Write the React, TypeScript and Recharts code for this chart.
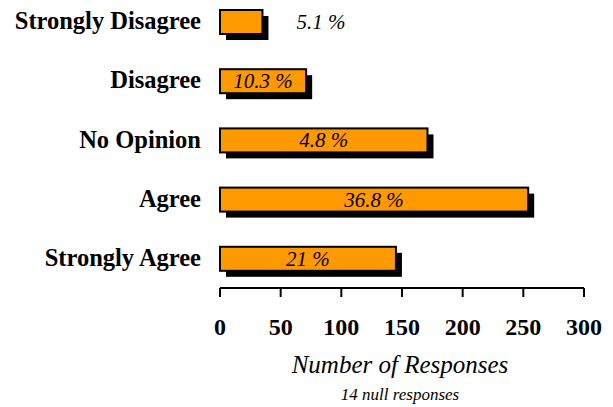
import { Bar, BarChart, LabelList, XAxis, YAxis } from "recharts";

const categories = ["Strongly Disagree", "Disagree", "No Opinion", "Agree", "Strongly Agree"];
const responses = [35, 71, 171, 254, 145];
const percentLabels = ["5.1 %", "10.3 %", "4.8 %", "36.8 %", "21 %"];
const xTicks = [0, 50, 100, 150, 200, 250, 300];

const data = categories.map((name, i) => ({
  name,
  value: responses[i],
  pct: percentLabels[i],
}));

const FONT = "'Liberation Serif', 'Times New Roman', serif";

const ShadowBar = (props: any) => {
  const { x, y, width, height } = props;
  return (
    <g>
      <rect x={x + 6} y={y + 6} width={width} height={height} fill="#000" />
      <rect x={x} y={y} width={width} height={height} fill="#FF9900" stroke="#000" strokeWidth={2} />
    </g>
  );
};

const PctLabel = (props: any) => {
  const { x, y, width, height, value } = props;
  // short bars get their label outside, to the right
  const outside = width < 50;
  return (
    <text
      x={outside ? x + width + 34 : x + width / 2}
      y={y + height / 2 + 7}
      textAnchor={outside ? "start" : "middle"}
      fontFamily={FONT}
      fontStyle="italic"
      fontSize={21}
      fill="#000"
    >
      {value}
    </text>
  );
};

const AxisTitle = (props: any) => {
  const { viewBox } = props;
  const cx = viewBox.x + viewBox.width / 2 - 2;
  return (
    <g fontFamily={FONT} fontStyle="italic" fill="#000">
      <text x={cx} y={viewBox.y + 85} textAnchor="middle" fontSize={25}>
        Number of Responses
      </text>
      <text x={cx} y={viewBox.y + 112} textAnchor="middle" fontSize={17}>
        14 null responses
      </text>
    </g>
  );
};

export default function App() {
  return (
    <div style={{ position: "absolute", left: 0, top: -16, width: 613, height: 423, background: "#fff" }}>
      <BarChart
        width={613}
        height={423}
        data={data}
        layout="vertical"
        margin={{ top: 8, right: 29, bottom: 0, left: 0 }}
      >
        <XAxis
          type="number"
          domain={[0, 300]}
          ticks={xTicks}
          height={119}
          axisLine={{ stroke: "#000", strokeWidth: 2 }}
          tickLine={{ stroke: "#000", strokeWidth: 2 }}
          tickSize={9}
          tickMargin={21}
          tick={{ fontFamily: FONT, fontWeight: "bold", fontSize: 24, fill: "#000" }}
          label={<AxisTitle />}
        />
        <YAxis
          type="category"
          dataKey="name"
          width={220}
          axisLine={false}
          tickLine={false}
          tickSize={0}
          tickMargin={19}
          interval={0}
          tick={{ fontFamily: FONT, fontWeight: "bold", fontSize: 24.5, fill: "#000", dy: -1 }}
        />
        <Bar dataKey="value" barSize={24} shape={<ShadowBar />} isAnimationActive={false}>
          <LabelList dataKey="pct" content={<PctLabel />} />
        </Bar>
      </BarChart>
    </div>
  );
}
